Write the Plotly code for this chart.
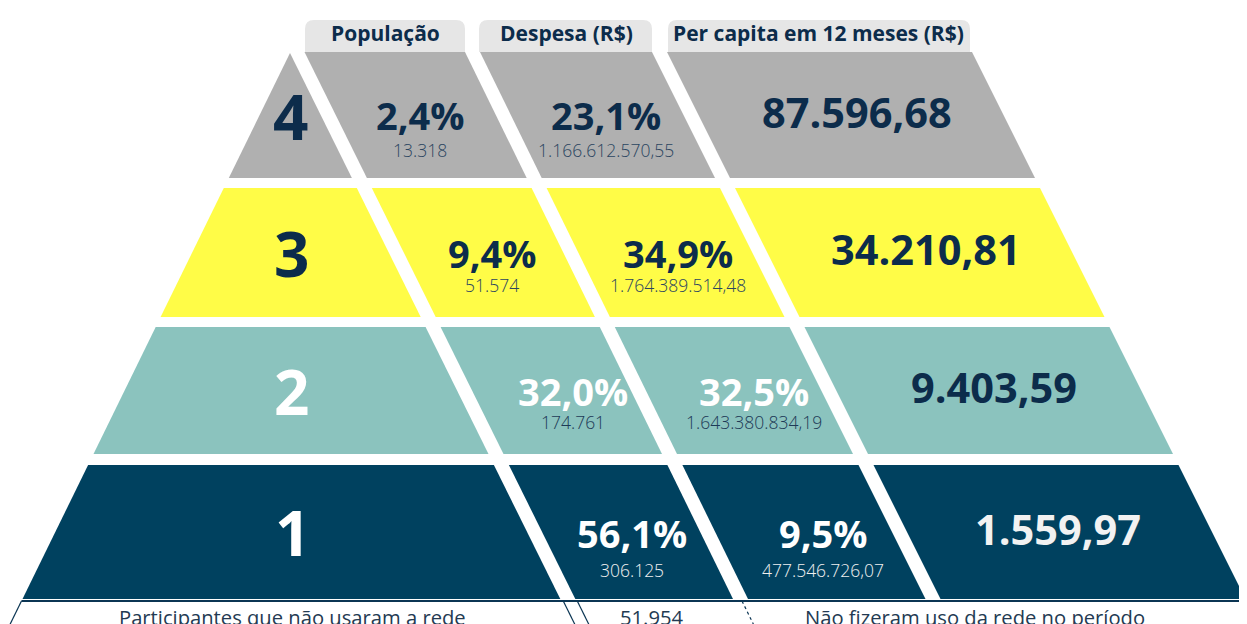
import plotly.graph_objects as go

# ---------------- data ----------------
levels = ["4", "3", "2", "1"]
pop_pct = [2.4, 9.4, 32.0, 56.1]
pop_n = [13318, 51574, 174761, 306125]
desp_pct = [23.1, 34.9, 32.5, 9.5]
desp_val = [1166612570.55, 1764389514.48, 1643380834.19, 477546726.07]
per_capita = [87596.68, 34210.81, 9403.59, 1559.97]
headers = ["População", "Despesa (R$)", "Per capita em 12 meses (R$)"]
nonusers_label = "Participantes que não usaram a rede"
nonusers_n = 51954
nonusers_note = "Não fizeram uso da rede no período"

# ---------------- style ----------------
row_colors = ["#b0b0b0", "#fffc47", "#8bc3be", "#00415f"]
big_color = ["#0c2c4b", "#0c2c4b", "#ffffff", "#ffffff"]
pct_color = ["#0c2c4b", "#0c2c4b", "#ffffff", "#ffffff"]
sub_color = ["#2b4560", "#2b4560", "#1d3a57", "#f0f0f0"]
pc_color = ["#0c2c4b", "#0c2c4b", "#0c2c4b", "#f2f2f2"]
NAVY = "#0c2c4b"
TAB = "#e6e6e6"
W, H = 1247, 624
PAGE_MARGIN = 8  # default body margin of the html page
FONT = "Open Sans"

# ---------------- layout geometry ----------------
row_top = [52, 188, 327, 465]
row_bot = [178, 317, 454, 599]
GAP = 15


def L(y):   # left edge of pyramid
    return 290 - 0.49 * (y - 53)


def D1(y):  # end of level cell
    return 290 + 0.495 * (y - 53)


def D2(y):  # end of population cell
    return 465 + 0.49 * (y - 52)


def D3(y):  # end of expense cell
    return 652 + 0.5 * (y - 52)


def R(y):   # right edge of pyramid
    return 972 + 0.5 * (y - 52)


cols = [
    (L, D1),
    (lambda y: D1(y) + GAP, D2),
    (lambda y: D2(y) + GAP, D3),
    (lambda y: D3(y) + GAP, R),
]

level_pos = [(290, 116), (291, 253), (291, 391), (292, 532)]
pop_x = [420, 492, 573, 632]
desp_x = [606, 678, 754, 823]
pct_y = [115, 253, 391, 533]
sub_y = [150, 285, 422, 570]
pc_pos = [(857, 112), (926, 249), (994, 387), (1058, 529)]
tabs = [(305, 465), (479, 652), (668, 970)]
header_x = [385, 566, 818]


def br(x, dec=0):
    s = f"{x:,.{dec}f}"
    return s.replace(",", "X").replace(".", ",").replace("X", ".")


fig = go.Figure()
shapes = []
ann = []


def poly(pts, color):
    p = "M " + " L ".join(f"{x:.1f},{y:.1f}" for x, y in pts) + " Z"
    shapes.append(dict(type="path", path=p, fillcolor=color,
                       line=dict(width=0), layer="below",
                       xref="x", yref="y"))


# header tabs
for (x0, x1), t, hx in zip(tabs, headers, header_x):
    r = 9
    p = (f"M {x0},52 L {x0},{20 + r} Q {x0},20 {x0 + r},20 "
         f"L {x1 - r},20 Q {x1},20 {x1},{20 + r} L {x1},52 Z")
    shapes.append(dict(type="path", path=p, fillcolor=TAB,
                       line=dict(width=0), layer="below"))
    ann.append(dict(x=hx, y=33, text=f"<b>{t}</b>", showarrow=False,
                    font=dict(family=FONT, size=21, color=NAVY),
                    xanchor="center", yanchor="middle"))

# pyramid cells
for i in range(4):
    yt, yb = row_top[i], row_bot[i]
    for j, (fl, fr) in enumerate(cols):
        ytop = yt if not (i == 0 and j == 0) else 53
        pts = [(fl(ytop), ytop), (fr(ytop), ytop), (fr(yb), yb), (fl(yb), yb)]
        poly(pts, row_colors[i])

    # level number
    lx, ly = level_pos[i]
    ann.append(dict(x=lx, y=ly, text=f"<b>{levels[i]}</b>", showarrow=False,
                    font=dict(family=FONT, size=62, color=big_color[i]),
                    xanchor="center", yanchor="middle"))
    # population
    ann.append(dict(x=pop_x[i], y=pct_y[i], text=f"<b>{br(pop_pct[i], 1)}%</b>",
                    showarrow=False,
                    font=dict(family=FONT, size=38, color=pct_color[i]),
                    xanchor="center", yanchor="middle"))
    ann.append(dict(x=pop_x[i], y=sub_y[i], text=br(pop_n[i]), showarrow=False,
                    font=dict(family=FONT, size=17.5, color=sub_color[i], weight=300),
                    xanchor="center", yanchor="middle"))
    # expense
    ann.append(dict(x=desp_x[i], y=pct_y[i], text=f"<b>{br(desp_pct[i], 1)}%</b>",
                    showarrow=False,
                    font=dict(family=FONT, size=38, color=pct_color[i]),
                    xanchor="center", yanchor="middle"))
    ann.append(dict(x=desp_x[i], y=sub_y[i], text=br(desp_val[i], 2), showarrow=False,
                    font=dict(family=FONT, size=17.5, color=sub_color[i], weight=300),
                    xanchor="center", yanchor="middle"))
    # per capita
    px, py = pc_pos[i]
    ann.append(dict(x=px, y=py, text=f"<b>{br(per_capita[i], 2)}</b>", showarrow=False,
                    font=dict(family=FONT, size=41.5, color=pc_color[i]),
                    xanchor="center", yanchor="middle"))

# bottom band (non-users)
yl, ye = 601, 640
line_c = "#0b3553"
shapes.append(dict(type="line", x0=L(yl), y0=yl, x1=R(yl) - 3, y1=yl,
                   line=dict(color=line_c, width=1.8)))
shapes.append(dict(type="line", x0=L(yl), y0=yl, x1=L(ye), y1=ye,
                   line=dict(color=line_c, width=1.2)))
shapes.append(dict(type="line", x0=R(yl) - 3, y0=yl, x1=R(ye) - 3, y1=ye,
                   line=dict(color=line_c, width=1.2)))
for off in (2, GAP + 1):
    shapes.append(dict(type="line", x0=D1(yl) + off, y0=yl, x1=D1(ye) + off, y1=ye,
                       line=dict(color=line_c, width=1.2)))
shapes.append(dict(type="line", x0=D2(yl) + 8, y0=yl, x1=D2(ye) + 8, y1=ye,
                   line=dict(color=line_c, width=1.2, dash="dot")))

for x, t in [(292, nonusers_label), (651, br(nonusers_n)), (975, nonusers_note)]:
    ann.append(dict(x=x, y=617, text=t, showarrow=False,
                    font=dict(family=FONT, size=20.2, color="#233a52"),
                    xanchor="center", yanchor="middle"))

M = PAGE_MARGIN
fig.update_layout(
    width=W - M, height=H - M,
    margin=dict(l=0, r=0, t=0, b=0),
    paper_bgcolor="white", plot_bgcolor="white",
    xaxis=dict(range=[M, W], visible=False, fixedrange=True),
    yaxis=dict(range=[H, M], visible=False, fixedrange=True),
    shapes=shapes, annotations=ann, showlegend=False,
)
fig.write_html("out.html")
